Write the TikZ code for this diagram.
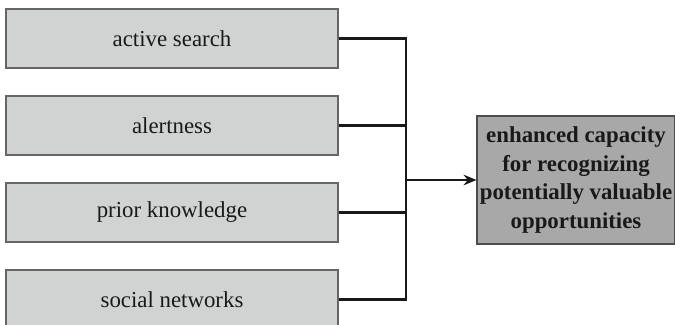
\documentclass[tikz,border=0pt]{standalone}
\usepackage{fontspec}
\setmainfont{Liberation Serif}
\usetikzlibrary{arrows.meta, positioning, calc}
\definecolor{factorcol}{RGB}{209,211,211}
\definecolor{outcomecol}{RGB}{168,168,168}

\begin{document}
\begin{tikzpicture}[
  x=0.03cm, y=-0.03cm,
  font=\fontsize{19.5}{24.5}\selectfont,
  factor/.style={draw=black!60, line width=0.9pt, fill=factorcol,
                 minimum width=9.96cm, minimum height=1.77cm, inner sep=0pt,
                 text=black!90},
  outcome/.style={draw=black!70, line width=0.9pt, fill=outcomecol,
                  minimum width=5.94cm, minimum height=3.84cm, inner sep=0pt,
                  align=center, font=\fontsize{19.5}{24.5}\selectfont\bfseries,
                  text=black!90},
  link/.style={line width=1.9pt, black!90},
  flow/.style={link, -{Stealth[length=11pt, width=9pt]}}
]
  \useasboundingbox (0,0) rectangle (675,324);

  \node[factor] (search)    at (172,38.5)  {active search};
  \node[factor] (alert)     at (172,125.5) {alertness};
  \node[factor] (knowledge) at (172,212.5) {prior knowledge};
  \node[factor] (networks)  at (172,299.5) {social networks};

  \node[outcome] (capacity) at (576,180)
    {enhanced capacity\\for recognizing\\potentially valuable\\opportunities};

  \coordinate (bus) at (406,180);

  \draw[link] (search.east) -| (bus);
  \draw[link] (networks.east) -| (bus);
  \draw[link] (alert.east) -- (alert.east -| bus);
  \draw[link] (knowledge.east) -- (knowledge.east -| bus);
  \draw[flow] (bus) -- (capacity.west);
\end{tikzpicture}
\end{document}
